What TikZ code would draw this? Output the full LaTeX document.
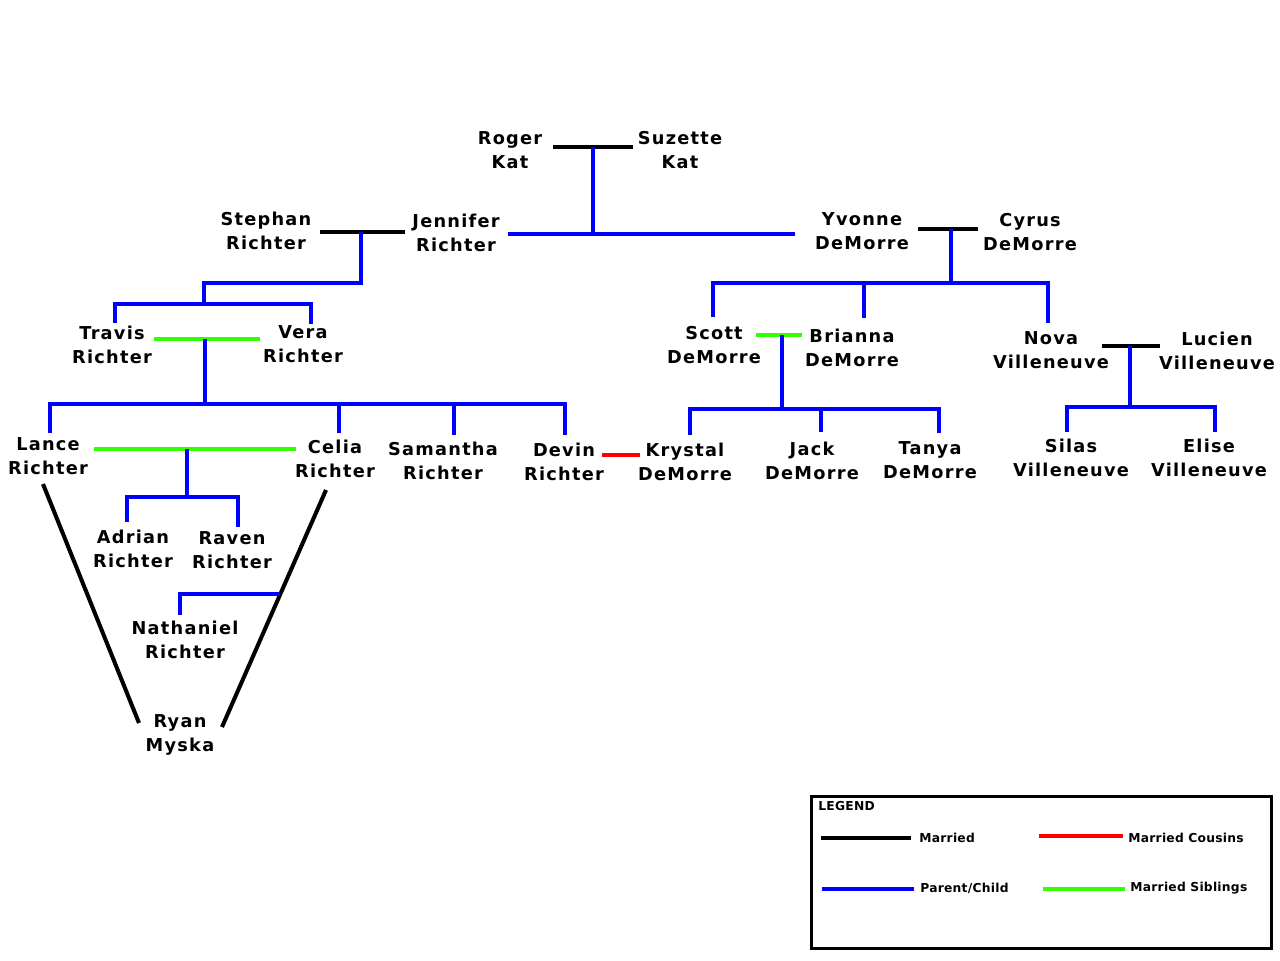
\documentclass[tikz,border=0pt]{standalone}
\usepackage{fontspec}
\setmainfont{DejaVu Sans}
\newfontfamily\namefont{DejaVu Sans}[LetterSpace=7]
\newfontfamily\legendfont{DejaVu Sans}[LetterSpace=2]
\definecolor{treeblue}{RGB}{0,0,255}
\definecolor{sibgreen}{RGB}{51,255,0}
\definecolor{cousred}{RGB}{255,0,0}

\begin{document}
\begin{tikzpicture}[x=0.02cm, y=-0.02cm]
		\tikzset{person/.style = {align=center, inner sep=0pt, font=\namefont\bfseries\fontsize{10.1}{13.3}\selectfont}}
		\tikzset{legtext/.style = {anchor=west, inner sep=0pt, font=\legendfont\bfseries\fontsize{7}{8}\selectfont}}
		\tikzset{married/.style = {line width=2.3pt, black}}
		\tikzset{parent/.style = {line width=2.3pt, treeblue}}
		\tikzset{siblings/.style = {line width=2.3pt, sibgreen}}
		\tikzset{cousins/.style = {line width=2.3pt, cousred}}
		
		\useasboundingbox (0,0) rectangle (1280,960);
		
		% people
		\node[person] (roger)     at ( 510, 150) {Roger\\Kat};
		\node[person] (suzette)   at ( 680, 150) {Suzette\\Kat};
		\node[person] (stephan)   at ( 266, 231) {Stephan\\Richter};
		\node[person] (jennifer)  at ( 456, 233) {Jennifer\\Richter};
		\node[person] (yvonne)    at ( 862, 231) {Yvonne\\DeMorre};
		\node[person] (cyrus)     at (1030, 232) {Cyrus\\DeMorre};
		\node[person] (travis)    at ( 112, 345) {Travis\\Richter};
		\node[person] (vera)      at ( 303, 344) {Vera\\Richter};
		\node[person] (scott)     at ( 714, 345) {Scott\\DeMorre};
		\node[person] (brianna)   at ( 852, 348) {Brianna\\DeMorre};
		\node[person] (nova)      at (1051, 350) {Nova\\Villeneuve};
		\node[person] (lucien)    at (1217, 351) {Lucien\\Villeneuve};
		\node[person] (lance)     at (  48, 456) {Lance\\Richter};
		\node[person] (celia)     at ( 335, 459) {Celia\\Richter};
		\node[person] (samantha)  at ( 443, 461) {Samantha\\Richter};
		\node[person] (devin)     at ( 564, 462) {Devin\\Richter};
		\node[person] (krystal)   at ( 685, 462) {Krystal\\DeMorre};
		\node[person] (jack)      at ( 812, 461) {Jack\\DeMorre};
		\node[person] (tanya)     at ( 930, 460) {Tanya\\DeMorre};
		\node[person] (silas)     at (1071, 458) {Silas\\Villeneuve};
		\node[person] (elise)     at (1209, 458) {Elise\\Villeneuve};
		\node[person] (adrian)    at ( 133, 549) {Adrian\\Richter};
		\node[person] (raven)     at ( 232, 550) {Raven\\Richter};
		\node[person] (nathaniel) at ( 185, 640) {Nathaniel\\Richter};
		\node[person] (ryan)      at ( 180, 735) {Ryan\\Myska};
		
		% line ends
		\coordinate (rogerR)   at ( 553, 147);
		\coordinate (suzetteL) at ( 633, 147);
		\coordinate (katmid)   at ( 593, 147);
		\coordinate (katdrop)  at ( 593, 234);
		\coordinate (jenR)     at ( 508, 234);
		\coordinate (yvoL)     at ( 795, 234);
		\coordinate (stephanR) at ( 320, 232);
		\coordinate (jenL)     at ( 405, 232);
		\coordinate (richmid)  at ( 361, 232);
		\coordinate (travisR)  at ( 154, 339);
		\coordinate (veraL)    at ( 260, 339);
		\coordinate (tvmid)    at ( 205, 339);
		\coordinate (lanceR)   at (  94, 449);
		\coordinate (celiaL)   at ( 296, 449);
		\coordinate (lcmid)    at ( 187, 449);
		\coordinate (devinR)   at ( 602, 455);
		\coordinate (krystalL) at ( 640, 455);
		\coordinate (lanceB)   at (  43, 484);
		\coordinate (ryanL)    at ( 139, 723);
		\coordinate (celiaB)   at ( 326, 490);
		\coordinate (ryanR)    at ( 222, 727);
		\coordinate (yvonneR)  at ( 918, 229);
		\coordinate (cyrusL)   at ( 978, 229);
		\coordinate (ycmid)    at ( 951, 229);
		\coordinate (scottR)   at ( 756, 335);
		\coordinate (briannaL) at ( 802, 335);
		\coordinate (sbmid)    at ( 782, 335);
		\coordinate (novaR)    at (1102, 346);
		\coordinate (lucienL)  at (1160, 346);
		\coordinate (nlmid)    at (1130, 346);
		
		% married
		\draw[married] (rogerR) -- (suzetteL);
		\draw[married] (stephanR) -- (jenL);
		\draw[married] (yvonneR) -- (cyrusL);
		\draw[married] (novaR) -- (lucienL);
		\draw[married] (lanceB) -- (ryanL);
		\draw[married] (celiaB) -- (ryanR);
		\draw[siblings] (travisR) -- (veraL);
		\draw[siblings] (lanceR) -- (celiaL);
		\draw[siblings] (scottR) -- (briannaL);
		\draw[cousins] (devinR) -- (krystalL);
		
		% parent / child
		\draw[parent] (katmid) -- (katdrop);
		\draw[parent] (jenR) -- (yvoL);
		\draw[parent] (richmid) -- (361,283) -- (204,283) -- (204,304);
		\draw[parent] (115,323) -- (115,304) -- (311,304) -- (311,324);
		\draw[parent] (tvmid) -- (205,404);
		\draw[parent] (50,433) -- (50,404) -- (565,404) -- (565,435);
		\draw[parent] (339,404) -- (339,433);
		\draw[parent] (454,404) -- (454,435);
		\draw[parent] (lcmid) -- (187,497);
		\draw[parent] (127,522) -- (127,497) -- (238,497) -- (238,527);
		\draw[parent] (180,615) -- (180,594) -- (280,594);
		\draw[parent] (ycmid) -- (951,283);
		\draw[parent] (713,317) -- (713,283) -- (1048,283) -- (1048,323);
		\draw[parent] (864,283) -- (864,318);
		\draw[parent] (sbmid) -- (782,409);
		\draw[parent] (690,435) -- (690,409) -- (939,409) -- (939,433);
		\draw[parent] (821,409) -- (821,432);
		\draw[parent] (nlmid) -- (1130,407);
		\draw[parent] (1067,432) -- (1067,407) -- (1215,407) -- (1215,432);
		
		% legend
		\draw[line width=1.7pt] (811,796) rectangle (1271,948);
		\node[legtext] (legend)    at ( 818, 806) {LEGEND};
		\node[legtext] (lgmarried) at ( 919, 838) {Married};
		\node[legtext] (lgcousins) at (1128, 838) {Married Cousins};
		\node[legtext] (lgparent)  at ( 920, 888) {Parent/Child};
		\node[legtext] (lgsiblings) at (1130, 888) {Married Siblings};
		\draw[married, line width=2.7pt] (821,838) -- (911,838);
		\draw[cousins, line width=2.7pt] (1039,836) -- (1123,836);
		\draw[parent, line width=2.7pt] (822,889) -- (914,889);
		\draw[siblings, line width=2.7pt] (1043,889) -- (1125,889);
\end{tikzpicture}
\end{document}
